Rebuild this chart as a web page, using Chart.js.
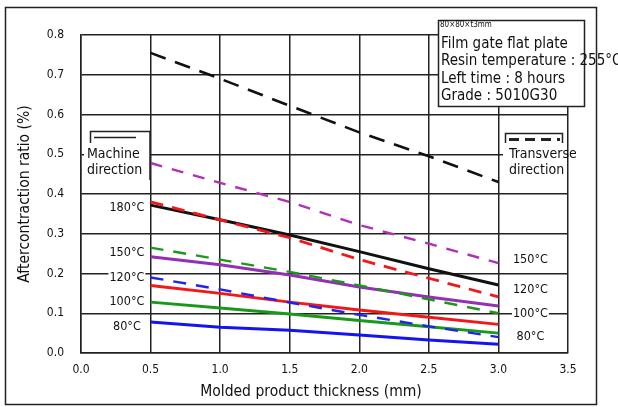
<!DOCTYPE html>
<html>
<head>
<meta charset="utf-8">
<script src="https://cdn.jsdelivr.net/npm/chart.js@4.4.0/dist/chart.umd.min.js"></script>
<style>
  html, body { margin: 0; padding: 0; background: #fff; }
  #wrap { width: 618px; height: 407px; }
</style>
</head>
<body>
<div id="wrap"><canvas id="chart" width="618" height="407"></canvas></div>
<script>
// Données (épaisseur en mm, ratio en %)
const thickness = [0.5, 1.0, 1.5, 2.0, 2.5, 3.0];

// Sens machine (traits pleins)
const mdBlue   = [0.078, 0.065, 0.057, 0.045, 0.033, 0.022];
const mdGreen  = [0.128, 0.113, 0.098, 0.082, 0.066, 0.05];
const mdRed    = [0.17, 0.15, 0.128, 0.108, 0.09, 0.072];
const mdPurple = [0.242, 0.222, 0.196, 0.166, 0.141, 0.118];
const mdBlack  = [0.372, 0.335, 0.297, 0.255, 0.212, 0.171];

// Sens transverse (pointillés)
const tdBlue    = [0.19, 0.16, 0.127, 0.096, 0.067, 0.04];
const tdGreen   = [0.265, 0.235, 0.204, 0.17, 0.135, 0.10];
const tdRed     = [0.38, 0.335, 0.29, 0.235, 0.188, 0.141];
const tdMagenta = [0.478, 0.428, 0.38, 0.322, 0.275, 0.226];
const tdBlack   = [0.755, 0.69, 0.622, 0.555, 0.495, 0.43];

// Étiquettes de température
const leftLabels  = [["180°C", 0.365], ["150°C", 0.253], ["120°C", 0.19], ["100°C", 0.128], ["80°C", 0.065]];
const rightLabels = [["150°C", 0.235], ["120°C", 0.158], ["100°C", 0.1], ["80°C", 0.04]];

const infoLines = ["Film gate flat plate", "Resin temperature : 255°C", "Left time : 8 hours", "Grade : 5010G30"];
const xTitle = "Molded product thickness (mm)";

const FONT = '"Liberation Sans Narrow", "DejaVu Sans Condensed", "Liberation Sans", sans-serif';
const INK = "#222";

function pts(values) {
    return thickness.map((x, i) => ({ x: x, y: values[i] }));
}

function line(values, color, dash, width) {
    return {
        data: pts(values),
        borderColor: color,
        borderWidth: width || 2.6,
        borderDash: dash || [],
        pointRadius: 0,
        fill: false,
        tension: 0
    };
}

const datasets = [
    line(tdBlack, "#111", [16, 10], 2.6),
    line(tdMagenta, "#b030b8", [12, 10], 2.4),
    line(tdRed, "#f01818", [13, 9], 2.8),
    line(tdGreen, "#189a18", [13, 10], 2.4),
    line(tdBlue, "#2222f0", [13, 10], 2.4),
    line(mdBlack, "#111", null, 3),
    line(mdPurple, "#9430b4", null, 3),
    line(mdRed, "#f01818", null, 3),
    line(mdGreen, "#189a18", null, 3),
    line(mdBlue, "#1414f0", null, 3)
];

// Cadre, boîtes de légende et annotations
const decorations = {
    id: "decorations",
    beforeDraw(chart) {
        const ctx = chart.ctx;
        ctx.save();
        ctx.fillStyle = "#fff";
        ctx.fillRect(0, 0, chart.width, chart.height);
        ctx.restore();
    },
    afterDraw(chart) {
        const ctx = chart.ctx;
        const xs = chart.scales.x, ys = chart.scales.y;
        ctx.save();
        ctx.strokeStyle = INK;
        ctx.lineWidth = 1.5;
        ctx.strokeRect(5.5, 7.5, 591, 397);

        // Titre de l'axe X
        ctx.fillStyle = "#111";
        ctx.textAlign = "center";
        ctx.textBaseline = "middle";
        ctx.font = "15.5px " + FONT;
        ctx.fillText(xTitle, 311, 392);

        // Boîte d'informations
        ctx.fillStyle = "#fff";
        ctx.fillRect(438, 20, 147, 87);
        ctx.strokeRect(438.5, 20.5, 146, 86);
        ctx.fillStyle = "#111";
        ctx.textAlign = "left";
        ctx.font = "8px " + FONT;
        ctx.fillText("80×80×t3mm", 440, 25);
        ctx.font = "15px " + FONT;
        infoLines.forEach((t, i) => ctx.fillText(t, 441, 44 + i * 17.5));

        // Légende sens machine
        ctx.fillStyle = "#fff";
        ctx.fillRect(84, 130, 66, 50);
        ctx.beginPath();
        ctx.moveTo(90.5, 143); ctx.lineTo(90.5, 131.5); ctx.lineTo(150, 131.5); ctx.lineTo(150, 180);
        ctx.stroke();
        ctx.beginPath();
        ctx.moveTo(94, 137.5); ctx.lineTo(136, 137.5);
        ctx.stroke();
        ctx.fillStyle = "#111";
        ctx.font = "14px " + FONT;
        ctx.fillText("Machine", 87, 154);
        ctx.fillText("direction", 87, 170);

        // Légende sens transverse
        ctx.fillStyle = "#fff";
        ctx.fillRect(503, 130, 64, 50);
        ctx.beginPath();
        ctx.moveTo(505.5, 143); ctx.lineTo(505.5, 133.5); ctx.lineTo(562.5, 133.5); ctx.lineTo(562.5, 143);
        ctx.stroke();
        ctx.lineWidth = 2.8;
        ctx.setLineDash([10, 6]);
        ctx.beginPath();
        ctx.moveTo(509, 139.5); ctx.lineTo(560, 139.5);
        ctx.stroke();
        ctx.setLineDash([]);
        ctx.lineWidth = 1.5;
        ctx.fillStyle = "#111";
        ctx.font = "14px " + FONT;
        ctx.fillText("Transverse", 509, 154);
        ctx.fillText("direction", 509, 170);

        // Températures
        ctx.font = "12.5px " + FONT;
        ctx.textAlign = "center";
        const put = (t, xv, yv) => {
            const px = xs.getPixelForValue(xv), py = ys.getPixelForValue(yv);
            const w = ctx.measureText(t).width;
            ctx.fillStyle = "#fff";
            ctx.fillRect(px - w / 2 - 1, py - 6, w + 2, 12);
            ctx.fillStyle = "#111";
            ctx.fillText(t, px, py);
        };
        leftLabels.forEach(l => put(l[0], 0.33, l[1]));
        rightLabels.forEach(l => put(l[0], 3.23, l[1]));
        ctx.restore();
    }
};

new Chart(document.getElementById("chart"), {
    type: "line",
    data: { datasets: datasets },
    options: {
        responsive: false,
        animation: false,
        layout: { padding: { left: 0, right: 50, top: 35, bottom: 4 } },
        plugins: { legend: { display: false }, tooltip: { enabled: false } },
        scales: {
            x: {
                type: "linear",
                min: 0, max: 3.5,
                afterFit: s => { s.height = 50; },
                ticks: {
                    stepSize: 0.5, padding: 10, color: "#111",
                    font: { family: FONT, size: 12 },
                    callback: v => v.toFixed(1)
                },
                grid: { color: INK, lineWidth: 1.5, drawTicks: false },
                border: { color: INK, width: 1.5 }
            },
            y: {
                min: 0, max: 0.8,
                afterFit: s => { s.width = 81; },
                ticks: {
                    stepSize: 0.1, padding: 17, color: "#111",
                    font: { family: FONT, size: 12 },
                    callback: v => v.toFixed(1)
                },
                grid: { color: INK, lineWidth: 1.5, drawTicks: false },
                border: { color: INK, width: 1.5 },
                title: {
                    display: true, text: "Aftercontraction ratio (%)", color: "#111",
                    font: { family: FONT, size: 15.5 }, padding: { top: 16, bottom: 0 }
                }
            }
        }
    },
    plugins: [decorations]
});
</script>
</body>
</html>
